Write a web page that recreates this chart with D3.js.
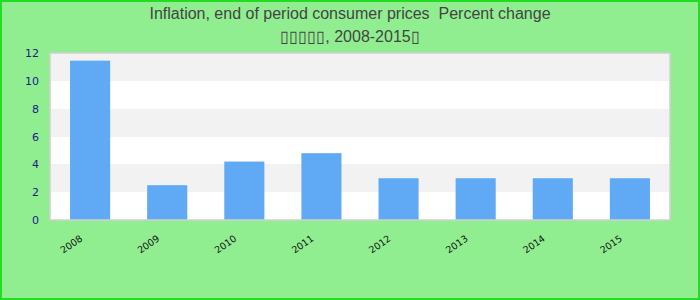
<!DOCTYPE html>
<html>
<head>
<meta charset="utf-8">
<script src="https://cdn.jsdelivr.net/npm/d3@7"></script>
<style>
  body { margin: 0; padding: 0; }
</style>
</head>
<body>
<div id="chartArea"></div>
<script>
var years = ['2008', '2009', '2010', '2011', '2012', '2013', '2014', '2015'];
var inflation = [11.45, 2.5, 4.2, 4.8, 3.0, 3.0, 3.0, 3.0];
var yTicks = [0, 2, 4, 6, 8, 10, 12];
var titleLines = ['Inflation, end of period consumer prices  Percent change',
                  '\u25af\u25af\u25af\u25af\u25af, 2008-2015\u25af'];

function chartBar() {
    var width = 700, height = 300;
    var margin = {top: 53, right: 30, bottom: 80, left: 50};
    var w = width - margin.left - margin.right;
    var h = height - margin.top - margin.bottom;

    var svg = d3.select('#chartArea').append('svg')
        .attr('width', width)
        .attr('height', height);

    // page background + green frame
    svg.append('rect')
        .attr('x', 1).attr('y', 1)
        .attr('width', width - 2).attr('height', height - 2)
        .attr('fill', '#90ee90')
        .attr('stroke', '#22dd22')
        .attr('stroke-width', 2);

    var title = svg.append('text')
        .attr('text-anchor', 'middle')
        .attr('font-family', 'Liberation Sans, Arial, sans-serif')
        .attr('font-size', 16)
        .attr('fill', '#444')
        .style('white-space', 'pre');
    titleLines.forEach(function(t, i) {
        title.append('tspan').attr('x', width / 2).attr('y', 19 + i * 23).text(t);
    });

    var xscale = d3.scaleBand().domain(years).range([0, w]).paddingInner(0.48).paddingOuter(0.26);
    var yscale = d3.scaleLinear().domain([0, 12]).range([h, 0]);

    var g = svg.append('g')
        .attr('transform', 'translate(' + margin.left + ',' + margin.top + ')');

    // white plot background, then alternating grey bands
    g.append('rect').attr('width', w).attr('height', h).attr('fill', '#ffffff');
    var bands = d3.range(2, 12, 4);
    g.selectAll('rect.band').data(bands).enter().append('rect')
        .attr('class', 'band')
        .attr('x', 0)
        .attr('width', w)
        .attr('y', function(d) { return Math.round(yscale(d + 2)); })
        .attr('height', function(d) { return Math.round(yscale(d)) - Math.round(yscale(d + 2)); })
        .attr('fill', '#f2f2f2');

    g.selectAll('rect.bar').data(inflation).enter().append('rect')
        .attr('class', 'bar')
        .attr('x', function(d, i) { return xscale(years[i]); })
        .attr('width', xscale.bandwidth())
        .attr('y', function(d) { return yscale(d); })
        .attr('height', function(d) { return h - yscale(d); })
        .attr('fill', '#60a9f5');

    // plot frame
    g.append('rect')
        .attr('width', w).attr('height', h)
        .attr('fill', 'none')
        .attr('stroke', '#d0d0d0')
        .attr('stroke-width', 1.5);

    var yAxis = g.append('g')
        .call(d3.axisLeft(yscale).tickValues(yTicks).tickSize(0).tickPadding(11));
    yAxis.select('.domain').remove();
    yAxis.selectAll('text')
        .attr('font-family', 'DejaVu Sans, sans-serif')
        .attr('font-size', 11)
        .attr('fill', '#1a1a8a');

    var xAxis = g.append('g')
        .attr('transform', 'translate(0,' + h + ')')
        .call(d3.axisBottom(xscale).tickSize(0).tickPadding(0));
    xAxis.select('.domain').remove();
    xAxis.selectAll('text')
        .attr('font-family', 'DejaVu Sans, sans-serif')
        .attr('font-size', 9.5)
        .attr('fill', '#111')
        .attr('text-anchor', 'end')
        .attr('dy', 0)
        .attr('transform', 'translate(-7,20) rotate(-35)');
}
chartBar();
</script>
</body>
</html>
